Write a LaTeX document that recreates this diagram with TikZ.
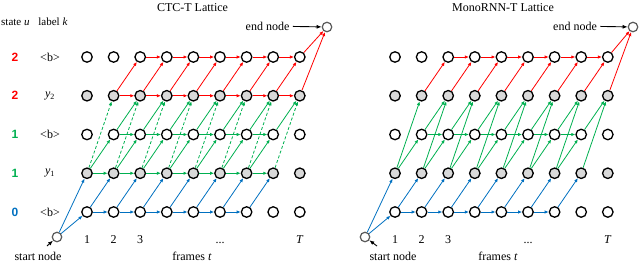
\documentclass[tikz,border=0pt]{standalone}
\usepackage{fontspec}
\setmainfont{Liberation Serif}
\setsansfont{Liberation Sans}
\usetikzlibrary{arrows.meta}
\definecolor{stred}{HTML}{FF0000}
\definecolor{stgreen}{HTML}{00B050}
\definecolor{stblue}{HTML}{0070C0}
\definecolor{nodegray}{HTML}{D9D9D9}
\definecolor{termgray}{HTML}{595959}
\tikzset{
  st/.style={circle, draw=black, line width=1.3pt, fill=white, minimum size=10.5pt, inner sep=0pt},
  stg/.style={st, fill=nodegray},
  term/.style={circle, draw=termgray, line width=1.2pt, fill=white, minimum size=9.5pt, inner sep=0pt},
  ar/.style={-{Latex[length=4pt,width=3.4pt]}, line width=.8pt},
  ared/.style={ar, color=stred},
  agrn/.style={ar, color=stgreen},
  ablu/.style={ar, color=stblue},
  dsh/.style={dash pattern=on 3pt off 2pt},
  pt/.style={-{Latex[length=5pt,width=4pt]}, line width=.9pt, black},
  ulbl/.style={font=\fontsize{12}{14}\sffamily\bfseries},
  hdr/.style={font=\fontsize{11}{13}\selectfont, inner sep=1pt},
}
\begin{document}
\begin{tikzpicture}[x=1pt, y=-1pt, font=\fontsize{12}{14}\selectfont]
  \useasboundingbox (0,0) rectangle (640,276);
  % lattice nodes: rows r=0..4 are <b>,y1,<b>,y2,<b>
  \foreach \lat/\xo in {L/87, R/395}{
    \foreach \t in {1,...,9}{
      \foreach \r/\s in {0/st, 1/stg, 2/st, 3/stg, 4/st}{
        \pgfmathsetmacro\xx{\xo+26.6*(\t-1)}
        \pgfmathsetmacro\yy{212-38.75*\r}
        \node[\s] (\lat\t-\r) at (\xx,\yy) {};
      }
    }
  }
  \node[term] (Ls) at (57,237) {};
  \node[term] (Le) at (327,27) {};
  \node[term] (Rs) at (365,237) {};
  \node[term] (Re) at (633,27) {};

  % transitions shared by both lattices
  \foreach \lat/\ds in {L/dsh, R/solid}{
    \draw[ablu] (\lat s) -- (\lat1-0);
    \draw[ablu] (\lat s) -- (\lat1-1);
    \foreach \t in {1,...,6}{
      \pgfmathtruncatemacro\nx{\t+1}
      \draw[ablu] (\lat\t-0) -- (\lat\nx-0);
    }
    \foreach \t in {1,...,7}{
      \pgfmathtruncatemacro\nx{\t+1}
      \draw[ablu] (\lat\t-0) -- (\lat\nx-1);
      \draw[agrn] (\lat\t-1) -- (\lat\nx-2);
    }
    \foreach \t in {2,...,7}{
      \pgfmathtruncatemacro\nx{\t+1}
      \draw[agrn] (\lat\t-2) -- (\lat\nx-2);
    }
    \foreach \t in {1,...,8}{
      \pgfmathtruncatemacro\nx{\t+1}
      \draw[agrn, \ds] (\lat\t-1) -- (\lat\nx-3);
    }
    \foreach \t in {2,...,8}{
      \pgfmathtruncatemacro\nx{\t+1}
      \draw[agrn] (\lat\t-2) -- (\lat\nx-3);
      \draw[ared] (\lat\t-3) -- (\lat\nx-4);
    }
    \foreach \t in {3,...,8}{
      \pgfmathtruncatemacro\nx{\t+1}
      \draw[ared] (\lat\t-4) -- (\lat\nx-4);
    }
    \draw[ared] (\lat9-3) -- (\lat e);
    \draw[ared] (\lat9-4) -- (\lat e);
  }
  % CTC-T only: label self-loops
  \foreach \t in {1,...,7}{
    \pgfmathtruncatemacro\nx{\t+1}
    \draw[agrn] (L\t-1) -- (L\nx-1);
  }
  \foreach \t in {2,...,8}{
    \pgfmathtruncatemacro\nx{\t+1}
    \draw[ared] (L\t-3) -- (L\nx-3);
  }

  % state / label column
  \node[hdr, anchor=west] (hu) at (0,22) {state \textit{u}};
  \node[hdr] (hk) at (53,22) {label \textit{k}};
  \foreach \r/\c/\u/\k in {0/stblue/0/{<b>}, 1/stgreen/1/{\textit{y}\textsubscript{1}}, 2/stgreen/1/{<b>}, 3/stred/2/{\textit{y}\textsubscript{2}}, 4/stred/2/{<b>}}{
    \pgfmathsetmacro\yy{212-38.75*\r}
    \node[ulbl, text=\c] (u\r) at (15,\yy) {\u};
    \node (k\r) at (50,\yy) {\k};
  }

  % titles and frame axis
  \node (Ltl) at (192.5,8) {CTC-T Lattice};
  \node (Rtl) at (503,8) {MonoRNN-T Lattice};
  \foreach \lat in {L, R}{
    \foreach \t/\lb in {1/1, 2/2, 3/3, 6/{...}, 9/{\textit{T}}}{
      \node[anchor=base] (\lat f\t) at ([yshift=-31pt]\lat\t-0) {\lb};
    }
  }
  \node (Lfr) at (192,256) {frames \textit{t}};
  \node (Rfr) at (498,256) {frames \textit{t}};

  % start / end markers
  \node (Lsl) at (38,256) {start node};
  \node (Rsl) at (393,256) {start node};
  \coordinate (Lsa) at (47,246);
  \coordinate (Rsa) at (377,246);
  \draw[pt] (Lsa) -- (Ls);
  \draw[pt] (Rsa) -- (Rs);
  \node (Lel) at (267.5,26) {end node};
  \node (Rel) at (575,26) {end node};
  \draw[pt] (Lel) -- (Le);
  \draw[pt] (Rel) -- (Re);
\end{tikzpicture}
\end{document}
